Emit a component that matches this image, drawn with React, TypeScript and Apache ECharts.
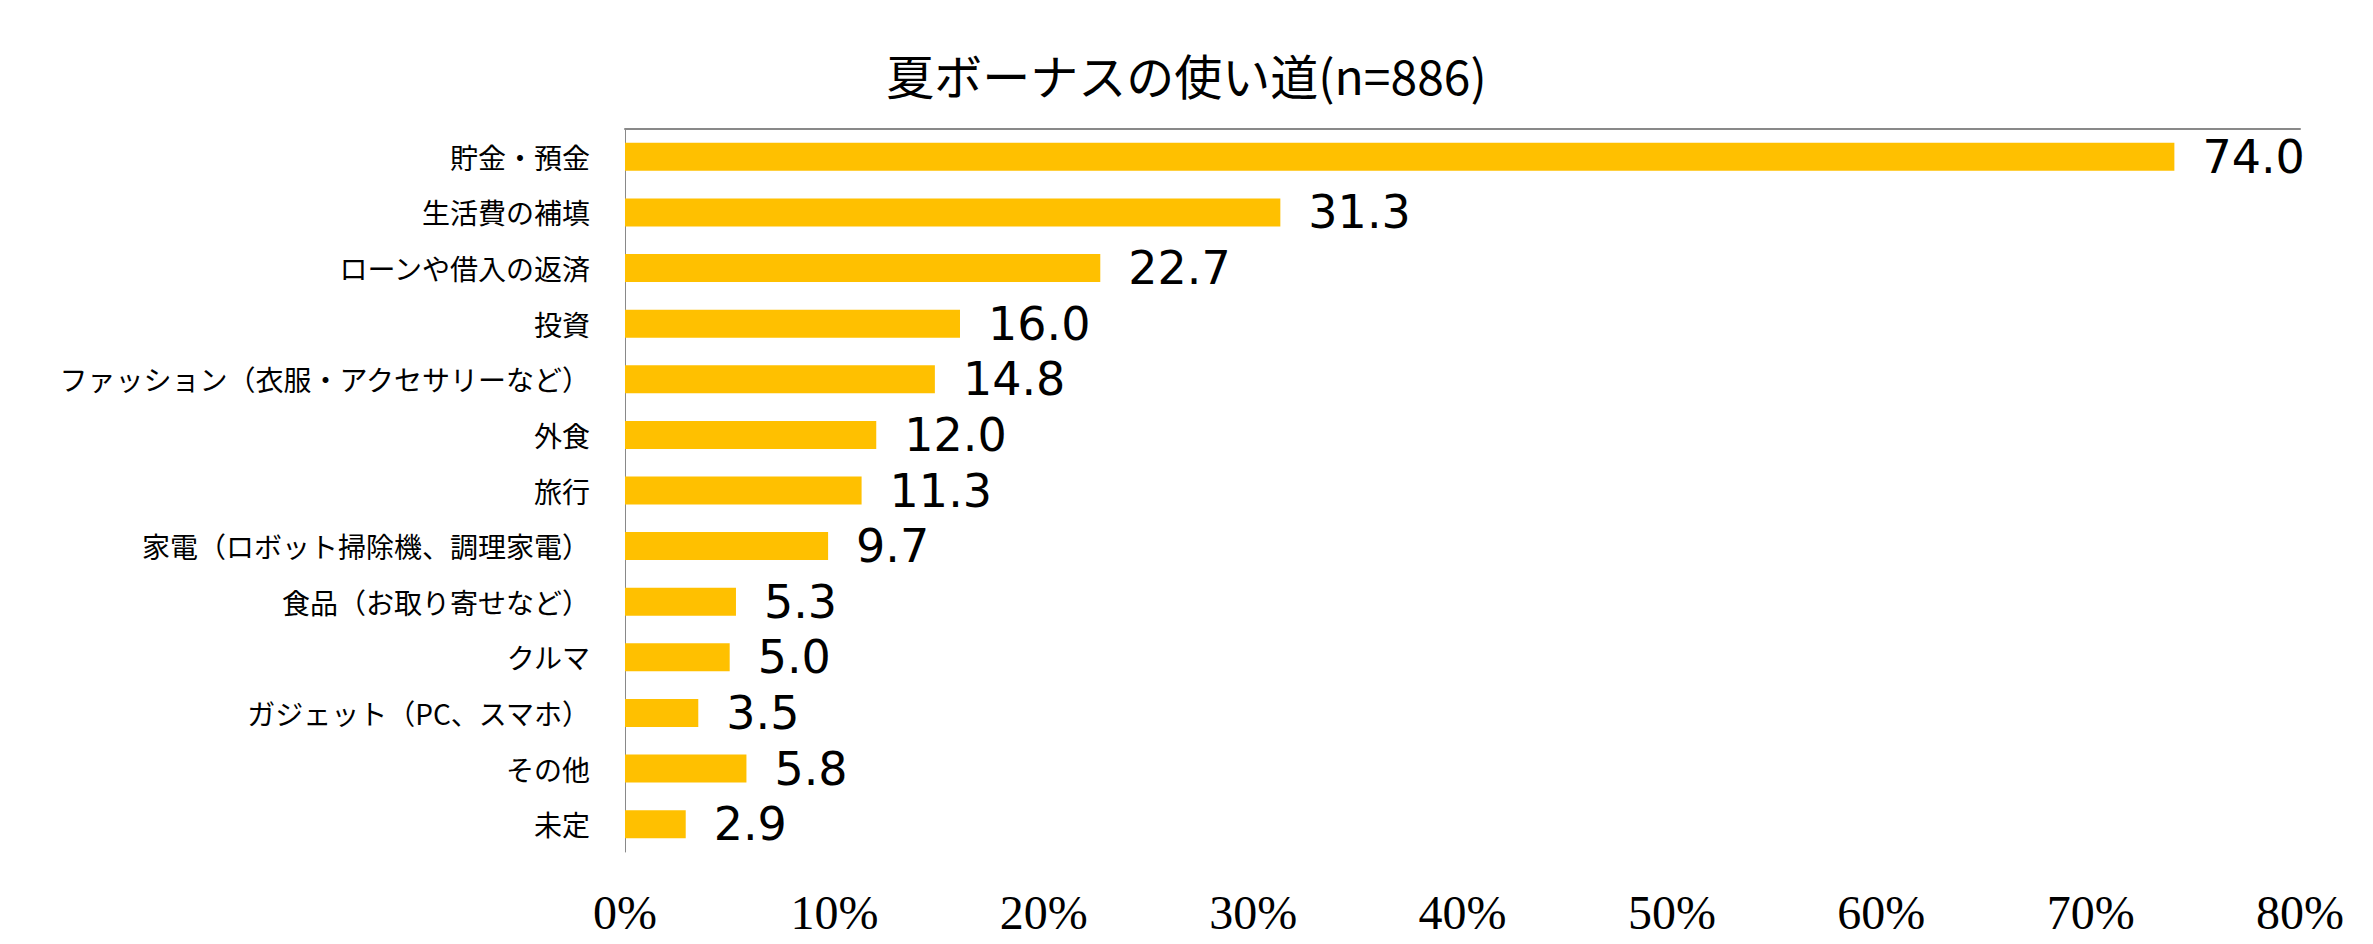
import { useEffect, useRef } from 'react';
import * as echarts from 'echarts';

const chartTitle = '夏ボーナスの使い道(n=886)';

const categories = [
    '貯金・預金',
    '生活費の補填',
    'ローンや借入の返済',
    '投資',
    'ファッション（衣服・アクセサリーなど）',
    '外食',
    '旅行',
    '家電（ロボット掃除機、調理家電）',
    '食品（お取り寄せなど）',
    'クルマ',
    'ガジェット（PC、スマホ）',
    'その他',
    '未定',
];

const values = [74.0, 31.3, 22.7, 16.0, 14.8, 12.0, 11.3, 9.7, 5.3, 5.0, 3.5, 5.8, 2.9];

const axisMin = 0;
const axisMax = 80;
const axisStep = 10;

export default function App() {
    const chartRef = useRef<HTMLDivElement>(null);

    useEffect(() => {
        if (!chartRef.current) return;
        const chart = echarts.init(chartRef.current, null, { renderer: 'svg' });

        const option: echarts.EChartsOption = {
            animation: false,
            backgroundColor: '#ffffff',
            title: {
                text: chartTitle,
                left: 'center',
                top: 45,
                textStyle: {
                    fontFamily: 'Noto Sans CJK JP',
                    fontSize: 48,
                    fontWeight: 'normal',
                    color: '#000000',
                },
            },
            grid: { left: 625, right: 73, top: 129, bottom: 92 },
            xAxis: [
                {
                    type: 'value',
                    position: 'bottom',
                    min: axisMin,
                    max: axisMax,
                    interval: axisStep,
                    axisLine: { show: false },
                    axisTick: { show: false },
                    splitLine: { show: false },
                    axisLabel: {
                        formatter: '{value}%',
                        fontFamily: 'Liberation Serif',
                        fontSize: 48,
                        color: '#000000',
                        margin: 36,
                    },
                },
                {
                    // top line drawn where the category axis crosses
                    type: 'value',
                    position: 'top',
                    min: axisMin,
                    max: axisMax,
                    interval: axisStep,
                    axisLine: { show: true, lineStyle: { color: '#898989', width: 2 } },
                    axisTick: { show: false },
                    splitLine: { show: false },
                    axisLabel: { show: false },
                },
            ],
            yAxis: {
                type: 'category',
                inverse: true,
                data: categories,
                axisLine: { show: true, lineStyle: { color: '#898989', width: 1 } },
                axisTick: { show: false },
                axisLabel: {
                    fontFamily: 'Noto Sans CJK JP',
                    fontSize: 28,
                    color: '#000000',
                    margin: 35,
                },
            },
            series: [
                {
                    type: 'bar',
                    xAxisIndex: 0,
                    data: values,
                    barWidth: 28,
                    itemStyle: { color: '#FFC000' },
                    label: {
                        show: true,
                        position: 'right',
                        distance: 28,
                        fontFamily: 'DejaVu Sans',
                        fontSize: 46,
                        color: '#000000',
                        formatter: (p: any) => Number(p.value).toFixed(1),
                    },
                },
            ],
        };

        chart.setOption(option);

        return () => {
            chart.dispose();
        };
    }, []);

    return (
        <div
            ref={chartRef}
            style={{ position: 'fixed', left: 0, top: 0, width: '2373px', height: '944px' }}
        />
    );
}
